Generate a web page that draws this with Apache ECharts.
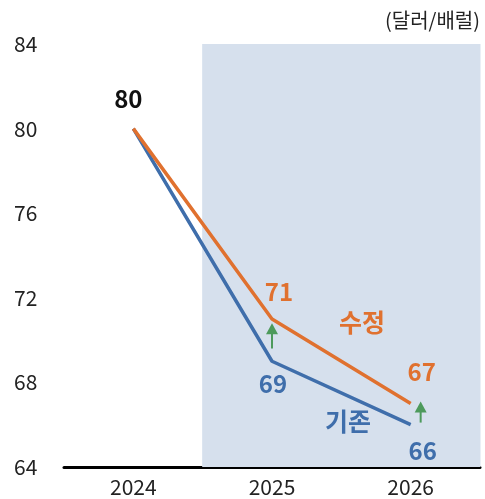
<!DOCTYPE html>
<html>
<head>
<meta charset="utf-8">
<script src="https://cdn.jsdelivr.net/npm/echarts@6/dist/echarts.min.js"></script>
<style>
html, body { margin: 0; padding: 0; background: #fff; }
#main { width: 485px; height: 499px; }
</style>
</head>
<body>
<div id="main"></div>
<script>
// 데이터
var years = ['2024', '2025', '2026'];
var baseValues = [80, 69, 66];      // 기존
var revisedValues = [80, 71, 67];   // 수정
// 전망 구간 음영: [연도 인덱스, 상단값]
var shadeData = [[1, 84], [2, 84]];
// 상향 화살표: [연도 인덱스, 시작값, 끝값]
var arrows = [[1, 69.6, 70.8], [2, 66.1, 67.1]];
var arrowXOffset = [0, 10];

var FONT = '"Noto Sans CJK KR", "Noto Sans", sans-serif';
var BLUE = '#3f6eab';
var ORANGE = '#e0712f';
var GREEN = '#4d9a5c';
var SHADE = '#d6e0ed';

var chart = echarts.init(document.getElementById('main'));

var option = {
    animation: false,
    grid: { left: 64, right: 5, top: 44, bottom: 32 },
    xAxis: {
        type: 'category',
        data: years,
        boundaryGap: true,
        axisLine: { lineStyle: { color: '#000', width: 3 } },
        axisTick: { show: false },
        axisLabel: { color: '#222', fontSize: 21, fontFamily: FONT, margin: 10 }
    },
    yAxis: {
        type: 'value',
        min: 64,
        max: 84,
        interval: 4,
        axisLine: { show: false },
        axisTick: { show: false },
        splitLine: { show: false },
        axisLabel: { color: '#222', fontSize: 21, fontFamily: FONT, align: 'left', margin: 50 }
    },
    series: [{
        // 음영 영역 (2025~2026 구간)
        type: 'custom',
        data: shadeData,
        silent: true,
        z: 1,
        renderItem: function (params, api) {
            var top = api.coord([api.value(0), api.value(1)]);
            var bottom = api.coord([api.value(0), 64]);
            var w = api.size([1, 0])[0];
            return {
                type: 'rect',
                shape: { x: top[0] - w / 2 - 0.5, y: top[1], width: w + 1, height: bottom[1] - top[1] },
                style: { fill: SHADE }
            };
        }
    }, {
        name: '기존',
        type: 'line',
        data: [
            { value: baseValues[0], label: { show: false } },
            { value: baseValues[1], label: { position: 'bottom', offset: [1, 1] } },
            { value: baseValues[2], label: { position: 'bottom', offset: [12, 4] } }
        ],
        symbol: 'circle',
        symbolSize: 0,
        showSymbol: true,
        itemStyle: { color: BLUE },
        lineStyle: { color: BLUE, width: 3.5 },
        label: { show: true, color: BLUE, fontSize: 24, fontWeight: 'bold', fontFamily: FONT, distance: 10 },
        z: 3
    }, {
        name: '수정',
        type: 'line',
        data: [
            { value: revisedValues[0], label: { position: 'top', offset: [-5, -6], color: '#111' } },
            { value: revisedValues[1], label: { position: 'top', offset: [7, -3] } },
            { value: revisedValues[2], label: { position: 'top', offset: [11, -8] } }
        ],
        symbol: 'circle',
        symbolSize: 0,
        showSymbol: true,
        itemStyle: { color: ORANGE },
        lineStyle: { color: ORANGE, width: 3.5 },
        label: { show: true, color: ORANGE, fontSize: 24, fontWeight: 'bold', fontFamily: FONT, distance: 12 },
        z: 4
    }, {
        type: 'custom',
        data: arrows,
        silent: true,
        z: 10,
        renderItem: function (params, api) {
            var p1 = api.coord([api.value(0), api.value(1)]);
            var p2 = api.coord([api.value(0), api.value(2)]);
            var x = p1[0] + arrowXOffset[params.dataIndex];
            return {
                type: 'group',
                children: [{
                    type: 'line',
                    shape: { x1: x, y1: p1[1], x2: x, y2: p2[1] + 6 },
                    style: { stroke: GREEN, lineWidth: 2 }
                }, {
                    type: 'polygon',
                    shape: { points: [[x, p2[1]], [x - 6, p2[1] + 11], [x + 6, p2[1] + 11]] },
                    style: { fill: GREEN }
                }]
            };
        }
    }],
    graphic: [{
        type: 'text', right: 5, top: 10, z: 100,
        style: { text: '(달러/배럴)', fill: '#222', fontSize: 20, fontFamily: FONT }
    }, {
        type: 'text', x: 339, y: 310, z: 100,
        style: { text: '수정', fill: ORANGE, fontSize: 25, fontWeight: 'bold', fontFamily: FONT }
    }, {
        type: 'text', x: 325, y: 409, z: 100,
        style: { text: '기존', fill: BLUE, fontSize: 25, fontWeight: 'bold', fontFamily: FONT }
    }]
};
chart.setOption(option);
</script>
</body>
</html>
